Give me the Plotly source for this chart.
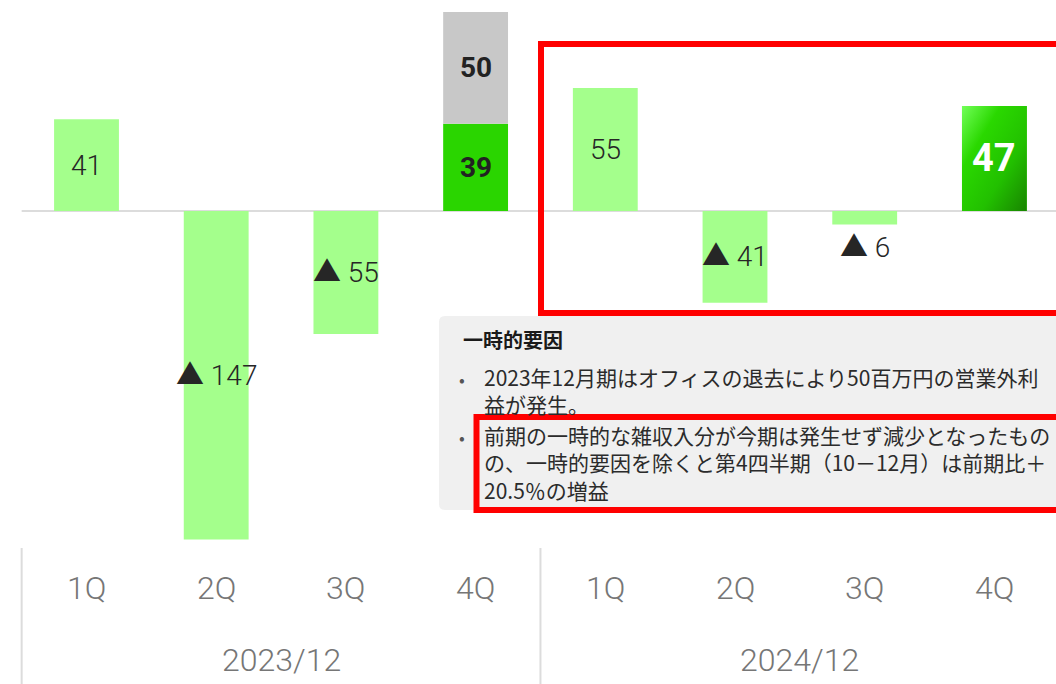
import urllib.parse
import plotly.graph_objects as go

# ---------------- data ----------------
quarters = ["1Q", "2Q", "3Q", "4Q", "1Q", "2Q", "3Q", "4Q"]
periods = ["2023/12", "2024/12"]
profit = [41, -147, -55, 39, 55, -41, -6, 47]          # 営業外利益（百万円）
one_time = [0, 0, 0, 50, 0, 0, 0, 0]                    # 一時的要因
bar_colors = ["#a4ff8c", "#a4ff8c", "#a4ff8c", "#2ad500",
              "#a4ff8c", "#a4ff8c", "#a4ff8c", "#22c400"]
note_title = "一時的要因"
note_lines_1 = ["2023年12月期はオフィスの退去により50百万円の営業外利",
                "益が発生。"]
note_lines_2 = ["前期の一時的な雑収入分が今期は発生せず減少となったもの",
                "の、一時的要因を除くと第4四半期（10－12月）は前期比＋",
                "20.5％の増益"]

W, H = 1056, 684
NUM_FONT = "Roboto, 'Noto Sans CJK JP', sans-serif"
JP_FONT = "'Noto Sans CJK JP', sans-serif"

x = list(range(len(profit)))

def px(xp):
    return xp / W

def py(yp):
    return 1 - yp / H

fig = go.Figure()
fig.add_trace(go.Bar(x=x, y=profit, width=0.5,
                     marker=dict(color=bar_colors, line=dict(width=0)),
                     hoverinfo="skip"))
fig.add_trace(go.Bar(x=x, y=[v if v else None for v in one_time], width=0.5,
                     marker=dict(color="#c8c8c8", line=dict(width=0)),
                     hoverinfo="skip"))

annotations = []
# bar value labels
for i, v in enumerate(profit):
    label = f"{v}" if v >= 0 else f"▲ {abs(v)}"
    if i == 7:
        annotations.append(dict(x=i, y=v / 2, text=f"<b>{label}</b>", showarrow=False,
                                font=dict(family=NUM_FONT, size=38, color="#ffffff")))
    elif i == 3:
        annotations.append(dict(x=i, y=v / 2, text=f"<b>{label}</b>", showarrow=False,
                                font=dict(family=NUM_FONT, size=28, color="#222222")))
    elif abs(v) < 15:
        annotations.append(dict(x=i, y=v, yanchor="top", yshift=-5, text=label,
                                showarrow=False,
                                font=dict(family=NUM_FONT, size=28, color="#262626",
                                          weight=300)))
    else:
        annotations.append(dict(x=i, y=v / 2, text=label, showarrow=False,
                                font=dict(family=NUM_FONT, size=28, color="#262626",
                                          weight=300)))
# one-time labels
for i, v in enumerate(one_time):
    if v:
        annotations.append(dict(x=i, y=profit[i] + v / 2, text=f"<b>{v}</b>",
                                showarrow=False,
                                font=dict(family=NUM_FONT, size=28, color="#222222")))
# category labels
for i, q in enumerate(quarters):
    annotations.append(dict(x=i, y=py(588), yref="paper", text=q, showarrow=False,
                            yanchor="middle",
                            font=dict(family=NUM_FONT, size=32, color="#767676",
                                      weight=300)))
for k, p in enumerate(periods):
    annotations.append(dict(x=1.5 + 4 * k, y=py(660), yref="paper", text=p,
                            showarrow=False, yanchor="middle",
                            font=dict(family=NUM_FONT, size=32, color="#767676",
                                      weight=300)))
# note box text
annotations.append(dict(x=px(461), y=py(339), xref="paper", yref="paper",
                        xanchor="left", yanchor="middle", showarrow=False,
                        text=f"<b>{note_title}</b>",
                        font=dict(family=JP_FONT, size=20, color="#1a1a1a")))
for yy in (378, 436):
    annotations.append(dict(x=px(462), y=py(yy), xref="paper", yref="paper",
                            xanchor="center", yanchor="middle", showarrow=False,
                            text="•", font=dict(family=JP_FONT, size=17, color="#555555")))
annotations.append(dict(x=px(482), y=py(390.5), xref="paper", yref="paper",
                        xanchor="left", yanchor="middle", align="left", showarrow=False,
                        text="<br>".join(note_lines_1),
                        font=dict(family=JP_FONT, size=21, color="#2b2b2b")))
annotations.append(dict(x=px(482), y=py(462), xref="paper", yref="paper",
                        xanchor="left", yanchor="middle", align="left", showarrow=False,
                        text="<br>".join(note_lines_2),
                        font=dict(family=JP_FONT, size=21, color="#2b2b2b")))

# rounded grey note box
x0, x1, y0, y1, r = 439, 1090, 316, 510, 6
path = (f"M {px(x0 + r)},{py(y0)} L {px(x1)},{py(y0)} L {px(x1)},{py(y1)} "
        f"L {px(x0 + r)},{py(y1)} Q {px(x0)},{py(y1)} {px(x0)},{py(y1 - r)} "
        f"L {px(x0)},{py(y0 + r)} Q {px(x0)},{py(y0)} {px(x0 + r)},{py(y0)} Z")

shapes = [
    dict(type="line", xref="x", yref="y", x0=-0.5, x1=8, y0=0, y1=0,
         line=dict(color="#dcdcdc", width=2), layer="below"),
    dict(type="line", xref="x", yref="paper", x0=-0.5, x1=-0.5, y0=0, y1=py(548),
         line=dict(color="#dcdcdc", width=2)),
    dict(type="line", xref="x", yref="paper", x0=3.5, x1=3.5, y0=0, y1=py(548),
         line=dict(color="#dcdcdc", width=2)),
    dict(type="path", xref="paper", yref="paper", path=path,
         fillcolor="#f0f0f0", line=dict(width=0), layer="below"),
    dict(type="rect", xref="paper", yref="paper", x0=px(541), x1=px(1080),
         y0=py(44), y1=py(313), line=dict(color="#ff0000", width=6)),
    dict(type="rect", xref="paper", yref="paper", x0=px(476.5), x1=px(1080),
         y0=py(417), y1=py(510), line=dict(color="#ff0000", width=6)),
]

# gradient fill for the latest quarter bar
svg = ("<svg xmlns='http://www.w3.org/2000/svg' width='66' height='105' "
       "viewBox='0 0 66 105' preserveAspectRatio='none'><defs>"
       "<linearGradient id='g' x1='0' y1='0' x2='1' y2='1'>"
       "<stop offset='0' stop-color='#72ff58'/><stop offset='0.3' stop-color='#2ad800'/>"
       "<stop offset='0.65' stop-color='#22c000'/><stop offset='1' stop-color='#188400'/>"
       "</linearGradient></defs><rect width='66' height='105' fill='url(#g)'/></svg>")
src = "data:image/svg+xml;charset=utf-8," + urllib.parse.quote(svg)
images = [dict(source=src, xref="x", yref="y", x=7 - 0.25, y=profit[7],
               sizex=0.5, sizey=profit[7], xanchor="left", yanchor="top",
               sizing="stretch", layer="above")]

px_per_unit = 2.235
zero_px = 211
cat_px = 129.7
first_center_px = 86.5

fig.update_layout(
    width=W, height=H, barmode="relative", showlegend=False,
    margin=dict(l=0, r=0, t=0, b=0),
    paper_bgcolor="white", plot_bgcolor="white",
    xaxis=dict(range=[-first_center_px / cat_px, (W - first_center_px) / cat_px],
               visible=False, fixedrange=True),
    yaxis=dict(range=[-(H - zero_px) / px_per_unit, zero_px / px_per_unit],
               visible=False, zeroline=False, showgrid=False, fixedrange=True),
    annotations=annotations, shapes=shapes, images=images,
)

fig.write_html("out.html",
               config={"displayModeBar": False},
               post_script="document.body.style.margin='0';"
                           "document.body.style.overflow='hidden';")
